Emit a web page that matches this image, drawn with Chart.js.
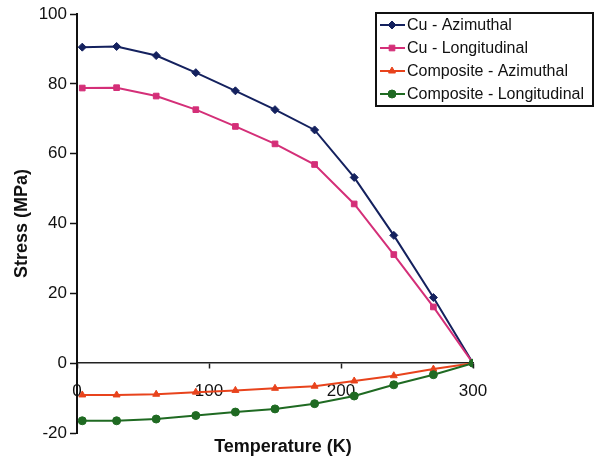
<!DOCTYPE html>
<html>
<head>
<meta charset="utf-8">
<script src="https://cdn.jsdelivr.net/npm/chart.js@4.4.1/dist/chart.umd.min.js"></script>
<style>
  html, body { margin: 0; padding: 0; background: #ffffff; }
  #wrap { width: 601px; height: 465px; position: relative; }
</style>
</head>
<body>
<div id="wrap"><canvas id="stress-chart"></canvas></div>
<script>
// --- data ---
const temperatures = [4, 30, 60, 90, 120, 150, 180, 210, 240, 270, 300];
const cuAzimuthal = [90.5, 90.7, 88.1, 83.2, 78.0, 72.6, 66.8, 53.2, 36.6, 18.8, 0];
const cuLongitudinal = [78.8, 78.9, 76.5, 72.6, 67.8, 62.8, 56.9, 45.6, 31.1, 16.1, 0];
const compAzimuthal = [-9.1, -9.1, -8.9, -8.3, -7.8, -7.2, -6.6, -5.1, -3.6, -1.7, 0];
const compLongitudinal = [-16.5, -16.5, -16.0, -15.0, -14.0, -13.1, -11.6, -9.4, -6.2, -3.3, 0];
const seriesNames = ['Cu - Azimuthal', 'Cu - Longitudinal', 'Composite - Azimuthal', 'Composite - Longitudinal'];
const xTicks = [0, 100, 200, 300];
const yTicks = [-20, 0, 20, 40, 60, 80, 100];

const FONT = 'Liberation Sans, Arial, Helvetica, sans-serif';

function toPoints(values) {
  return values.map((v, i) => ({ x: temperatures[i], y: v }));
}

// --- legend box drawn inside the plot (top right) ---
const boxLegend = {
  id: 'boxLegend',
  afterDraw(chart) {
    const ctx = chart.ctx;
    const left = 376, top = 13, width = 217, height = 93;
    ctx.save();
    ctx.fillStyle = '#ffffff';
    ctx.fillRect(left, top, width, height);
    ctx.lineWidth = 2;
    ctx.strokeStyle = '#111111';
    ctx.strokeRect(left, top, width, height);

    ctx.font = '16px ' + FONT;
    ctx.textBaseline = 'middle';
    chart.data.datasets.forEach((ds, i) => {
      const y = top + 12 + i * 23;
      ctx.strokeStyle = ds.borderColor;
      ctx.lineWidth = 2;
      ctx.beginPath();
      ctx.moveTo(left + 4, y);
      ctx.lineTo(left + 29, y);
      ctx.stroke();
      // marker in the middle of the sample line
      ctx.fillStyle = ds.pointBackgroundColor;
      ctx.strokeStyle = ds.pointBorderColor;
      ctx.lineWidth = 1;
      Chart.helpers.drawPoint(ctx, {
        pointStyle: ds.pointStyle,
        radius: ds.pointRadius,
        rotation: 0,
        borderWidth: 1
      }, left + 16, y);
      ctx.fillStyle = '#111111';
      ctx.fillText(seriesNames[i], left + 31, y + 1);
    });
    ctx.restore();
  }
};

// --- x axis title below the plot ---
const xTitle = {
  id: 'xTitle',
  afterDraw(chart) {
    const ctx = chart.ctx;
    ctx.save();
    ctx.font = 'bold 18px ' + FONT;
    ctx.fillStyle = '#111111';
    ctx.textAlign = 'center';
    ctx.textBaseline = 'middle';
    ctx.fillText('Temperature (K)', 283, 447);
    ctx.restore();
  }
};

function makeSet(label, values, color, style, radius, order) {
  return {
    label: label,
    data: toPoints(values),
    borderColor: color,
    backgroundColor: color,
    pointBackgroundColor: color,
    pointBorderColor: color,
    pointStyle: style,
    pointRadius: radius,
    pointBorderWidth: 1,
    borderWidth: 2,
    tension: 0,
    order: order // lower order is painted on top
  };
}

new Chart(document.getElementById('stress-chart'), {
  type: 'line',
  data: {
    datasets: [
      makeSet(seriesNames[0], cuAzimuthal, '#14215e', 'rectRot', 4, 3),
      makeSet(seriesNames[1], cuLongitudinal, '#d42f78', 'rect', 4, 2),
      makeSet(seriesNames[2], compAzimuthal, '#e8431c', 'triangle', 4, 1),
      makeSet(seriesNames[3], compLongitudinal, '#1f6a22', 'circle', 4, 0)
    ]
  },
  options: {
    responsive: true,
    maintainAspectRatio: false,
    animation: false,
    layout: { padding: { top: 14, right: 128, bottom: 32, left: 0 } },
    scales: {
      x: {
        type: 'linear',
        position: { y: 0 },
        min: 0,
        max: 300,
        afterBuildTicks: scale => { scale.ticks = xTicks.map(v => ({ value: v })); },
        border: { display: true, color: '#222222', width: 1.5 },
        grid: { display: true, drawOnChartArea: false, drawTicks: true, tickLength: 5, color: '#222222', tickWidth: 1.5 },
        ticks: { color: '#111111', padding: 13, maxRotation: 0, font: { family: FONT, size: 17 } }
      },
      y: {
        min: -20,
        max: 100,
        afterBuildTicks: scale => { scale.ticks = yTicks.map(v => ({ value: v })); },
        afterFit: scale => { scale.width = 77; },
        border: { display: true, color: '#111111', width: 2 },
        grid: { display: true, drawOnChartArea: false, drawTicks: true, tickLength: 7, color: '#111111', tickWidth: 1.5 },
        ticks: { color: '#111111', padding: 3, font: { family: FONT, size: 17 } },
        title: {
          display: true,
          text: 'Stress (MPa)',
          color: '#111111',
          padding: { top: 11, bottom: 0 },
          font: { family: FONT, size: 18, weight: 'bold' }
        }
      }
    },
    plugins: {
      legend: { display: false },
      tooltip: { enabled: false }
    }
  },
  plugins: [boxLegend, xTitle]
});
</script>
</body>
</html>
